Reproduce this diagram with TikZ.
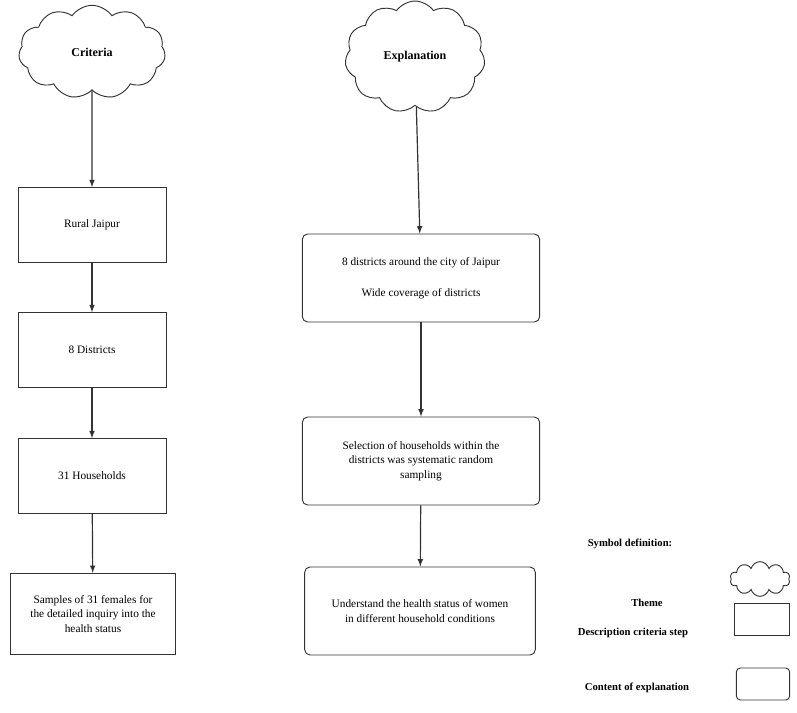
\documentclass[tikz,border=0pt]{standalone}
\usepackage{fontspec}
\setmainfont{Liberation Serif}
\usetikzlibrary{shapes.symbols,positioning}

\tikzset{
  theme/.style={cloud, cloud puffs=11, cloud puff arc=110, draw=black!80, line width=0.7pt,
    minimum width=#1, font=\bfseries\fontsize{9}{11}\selectfont},
  theme/.default=110,
  critbox/.style={draw=black!80, line width=0.7pt, minimum width=111, minimum height=56,
    align=center, font=\fontsize{8.5}{11}\selectfont},
  explbox/.style={critbox, rounded corners=4pt, minimum width=178, minimum height=66},
  flow/.style={-latex, line width=0.9pt, black!80},
  legend/.style={font=\bfseries\fontsize{8}{10}\selectfont}
}

\begin{document}
\begin{tikzpicture}[x=0.75pt,y=-0.75pt]
\useasboundingbox (0,0) rectangle (797,713);
% criteria column
\node[theme, minimum height=70] (crit) at (92,52) {Criteria};
\node[critbox] (rural) at (92,225) {Rural Jaipur};
\node[critbox] (dist) at (92,350) {8 Districts};
\node[critbox] (house) at (92,476) {31 Households};
\node[critbox, minimum width=124, minimum height=61] (samp) at (93,614)
  {Samples of 31 females for\\the detailed inquiry into the\\health status};
\draw[flow] (crit) -- (rural);
\draw[flow] (rural) -- (dist);
\draw[flow] (dist) -- (house);
\draw[flow] (house) -- (samp);
% explanation column
\node[theme=105, minimum height=70] (expl) at (415,57) {Explanation};
\node[explbox] (around) at (421,278) {8 districts around the city of Jaipur\\[12pt]Wide coverage of districts};
\node[explbox] (select) at (421,461) {Selection of households within the\\districts was systematic random\\sampling};
\node[explbox, minimum width=173] (under) at (420,611) {Understand the health status of women\\in different household conditions};
\draw[flow] (expl) -- (around);
\draw[flow] (around) -- (select);
\draw[flow] (select) -- (under);
% symbol definition
\node[legend] (symb) at (630,544) {Symbol definition:};
\node[legend] (lthm) at (647,603) {Theme};
\node[legend] (lstp) at (633,633) {Description criteria step};
\node[legend] (lexp) at (637,688) {Content of explanation};
\node[cloud, cloud puffs=10, draw=black!80, line width=0.7pt, minimum width=45, minimum height=26] (sthm) at (760,579) {};
\node[draw=black!80, line width=0.7pt, minimum width=41, minimum height=24] (sstp) at (762,619) {};
\node[draw=black!80, line width=0.7pt, rounded corners=3pt, minimum width=40, minimum height=24] (sexp) at (763,684) {};
\end{tikzpicture}
\end{document}
